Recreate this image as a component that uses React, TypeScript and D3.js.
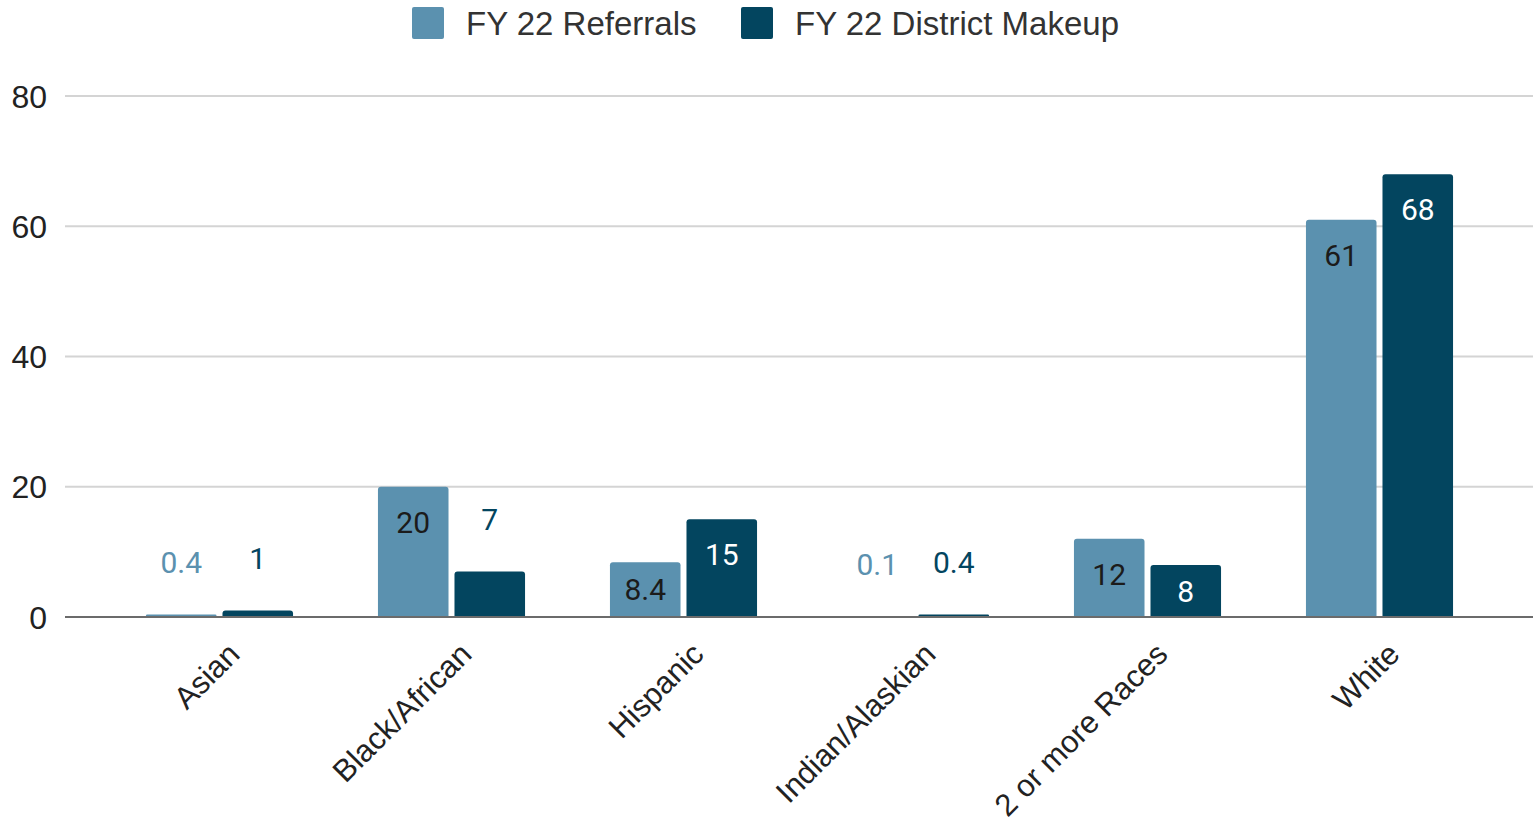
import React, { useEffect } from 'react'
import * as d3 from 'd3'

// chart values
const categories = ['Asian', 'Black/African', 'Hispanic', 'Indian/Alaskian', '2 or more Races', 'White']
const referrals = [0.4, 20, 8.4, 0.1, 12, 61]
const districtMakeup = [1, 7, 15, 0.4, 8, 68]
const seriesNames = ['FY 22 Referrals', 'FY 22 District Makeup']
const yTicks = [0, 20, 40, 60, 80]

const colors = ['#5b91af', '#03455f']
const W = 1533
const H = 826
const sans = "'Liberation Sans', Arial, sans-serif"

const App = () => {
    useEffect(() => {
        document.body.style.margin = '0'
    }, [])

    const y = d3.scaleLinear().domain([0, 80]).range([617, 96])
    const x = d3.scaleBand().domain(categories).range([103.5, 1495.5]).paddingInner(0.366).paddingOuter(0.183)
    const inner = d3.scaleBand<number>().domain([0, 1]).range([0, x.bandwidth()]).paddingInner(0.078)
    const series = [referrals, districtMakeup]

    // bar with rounded top corners only
    const barPath = (x0: number, w: number, top: number, bottom: number) => {
        const h = bottom - top
        const r = Math.min(3, h / 2, w / 2)
        const p = d3.path()
        p.moveTo(x0, bottom)
        p.lineTo(x0, top + r)
        p.quadraticCurveTo(x0, top, x0 + r, top)
        p.lineTo(x0 + w - r, top)
        p.quadraticCurveTo(x0 + w, top, x0 + w, top + r)
        p.lineTo(x0 + w, bottom)
        p.closePath()
        return p.toString()
    }

    const legendItems = [
        { name: seriesNames[0], sx: 412, tx: 466 },
        { name: seriesNames[1], sx: 741, tx: 795 },
    ]

    return (
        <svg width={W} height={H} style={{ display: 'block', background: '#fff' }}>
            {/* legend */}
            {legendItems.map((l, i) => (
                <g key={l.name}>
                    <rect x={l.sx} y={7} width={32} height={32} rx={2} fill={colors[i]} />
                    <text x={l.tx} y={35} fontFamily={sans} fontSize={33} fill="#333">{l.name}</text>
                </g>
            ))}

            {/* grid + y ticks */}
            {yTicks.map(t => (
                <g key={t}>
                    {t !== 0 && <line x1={65} x2={W} y1={y(t)} y2={y(t)} stroke="#d4d4d4" strokeWidth={2} />}
                    <text x={47} y={y(t)} dy="0.36em" textAnchor="end" fontFamily={sans} fontSize={32} fill="#222">{t}</text>
                </g>
            ))}

            {/* bars */}
            {categories.map((c, ci) => series.map((s, si) => {
                const v = s[ci]
                const bx = (x(c) as number) + (inner(si) as number)
                return <path key={c + si} d={barPath(bx, inner.bandwidth(), y(v), y(0))} fill={colors[si]} />
            }))}

            {/* baseline */}
            <line x1={65} x2={W} y1={y(0)} y2={y(0)} stroke="#6b6b6b" strokeWidth={2} />

            {/* data labels */}
            {categories.map((c, ci) => series.map((s, si) => {
                const v = s[ci]
                const bx = (x(c) as number) + (inner(si) as number)
                const bw = inner.bandwidth()
                const top = y(v)
                const bottom = y(0)
                const inside = bottom - top > 48
                const cy = inside ? Math.min(top + 35, (top + bottom) / 2) : top - 52
                const fill = inside ? (si === 0 ? '#1b1b1b' : '#ffffff') : colors[si]
                return (
                    <text key={'l' + c + si} x={bx + bw / 2} y={cy} dy="0.36em" textAnchor="middle"
                        fontFamily="Roboto, sans-serif" fontSize={30} fill={fill}>{v}</text>
                )
            }))}

            {/* category labels */}
            {categories.map(c => {
                const cx = (x(c) as number) + x.bandwidth() / 2
                return (
                    <text key={'c' + c} transform={`translate(${cx + 22},${656}) rotate(-45)`} textAnchor="end"
                        fontFamily={sans} fontSize={31} fill="#222">{c}</text>
                )
            })}
        </svg>
    )
}

export default App
